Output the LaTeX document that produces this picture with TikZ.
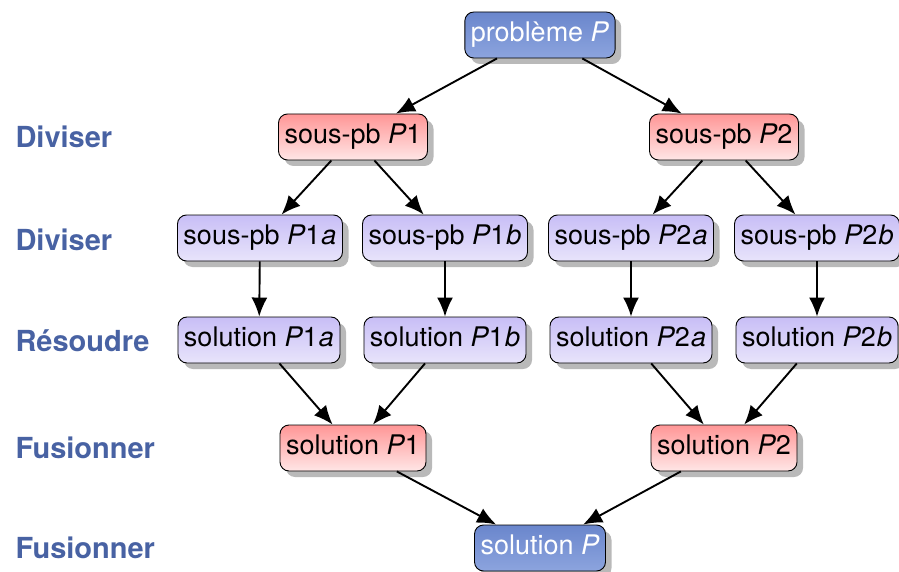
\documentclass[tikz,border=0pt]{standalone}
\usepackage{fontspec}
\setmainfont{TeX Gyre Heros}
\usetikzlibrary{shadows,arrows.meta}
\definecolor{labc}{RGB}{72,98,163}
\definecolor{bluetop}{RGB}{106,134,204}
\definecolor{bluebot}{RGB}{140,164,222}
\definecolor{redtop}{RGB}{255,150,150}
\definecolor{redbot}{RGB}{255,230,230}
\definecolor{purtop}{RGB}{200,190,246}
\definecolor{purbot}{RGB}{232,228,251}
\newcommand{\Pa}[2]{\textit{P}#1\kern1pt\textit{#2}}
\begin{document}
\begin{tikzpicture}[x=1pt,y=-1pt,
  box/.style={draw=black, line width=0.9pt, rounded corners=9pt,
    font=\fontsize{27}{30}\selectfont, text height=19pt, text depth=5.5pt,
    inner xsep=6pt, inner ysep=0pt, minimum height=46pt,
    drop shadow={shadow xshift=6pt, shadow yshift=-6pt, opacity=0.55}},
  bluebox/.style={box, top color=bluetop, bottom color=bluebot, text=white},
  redbox/.style={box, top color=redtop, bottom color=redbot},
  purbox/.style={box, top color=purtop, bottom color=purbot},
  lab/.style={anchor=west, text=labc, font=\fontsize{29}{32}\selectfont\bfseries},
  >={Latex[length=19pt,width=16pt]},
  arr/.style={->, line width=1.9pt}
]
\useasboundingbox (0,0) rectangle (899,572);

\node[bluebox] (P) at (540,35) {problème \textit{P}};
\node[redbox] (P1) at (353,137) {sous-pb \textit{P}1};
\node[redbox] (P2) at (724,137) {sous-pb \textit{P}2};
\node[purbox] (P1a) at (260,238) {sous-pb \Pa{1}{a}};
\node[purbox] (P1b) at (445,238) {sous-pb \Pa{1}{b}};
\node[purbox] (P2a) at (631,238) {sous-pb \Pa{2}{a}};
\node[purbox] (P2b) at (817,238) {sous-pb \Pa{2}{b}};
\node[purbox] (S1a) at (259,340) {solution \Pa{1}{a}};
\node[purbox] (S1b) at (445,340) {solution \Pa{1}{b}};
\node[purbox] (S2a) at (631,340) {solution \Pa{2}{a}};
\node[purbox] (S2b) at (817,340) {solution \Pa{2}{b}};
\node[redbox] (S1) at (353,448) {solution \textit{P}1};
\node[redbox] (S2) at (724,448) {solution \textit{P}2};
\node[bluebox] (S) at (540,548) {solution \textit{P}};

\node[lab] (L1) at (12,137) {Diviser};
\node[lab] (L2) at (12,240) {Diviser};
\node[lab] (L3) at (12,341) {Résoudre};
\node[lab] (L4) at (12,448) {Fusionner};
\node[lab] (L5) at (12,548) {Fusionner};

\draw[arr] (P) -- (P1);
\draw[arr] (P) -- (P2);
\draw[arr] (P1) -- (P1a);
\draw[arr] (P1) -- (P1b);
\draw[arr] (P2) -- (P2a);
\draw[arr] (P2) -- (P2b);
\draw[arr] (P1a) -- (S1a);
\draw[arr] (P1b) -- (S1b);
\draw[arr] (P2a) -- (S2a);
\draw[arr] (P2b) -- (S2b);
\draw[arr] (S1a) -- (S1);
\draw[arr] (S1b) -- (S1);
\draw[arr] (S2a) -- (S2);
\draw[arr] (S2b) -- (S2);
\draw[arr] (S1) -- (S);
\draw[arr] (S2) -- (S);
\end{tikzpicture}
\end{document}
